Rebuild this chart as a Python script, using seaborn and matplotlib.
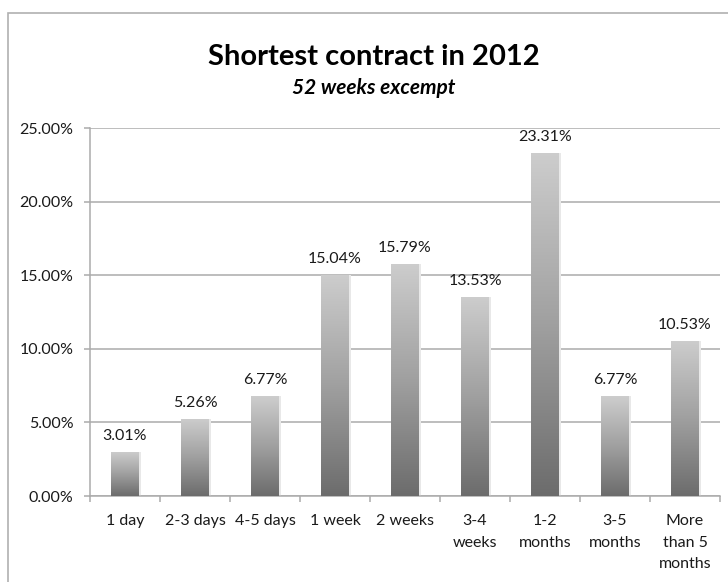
import matplotlib
matplotlib.use("Agg")
import matplotlib.pyplot as plt
import matplotlib.patches as mpatches
from matplotlib.colors import LinearSegmentedColormap
import numpy as np
import pandas as pd
import seaborn as sns

# Share of respondents by shortest contract length (percent)
categories = ["1 day", "2-3 days", "4-5 days", "1 week", "2 weeks",
              "3-4\nweeks", "1-2\nmonths", "3-5\nmonths", "More\nthan 5\nmonths"]
shares = [3.01, 5.26, 6.77, 15.04, 15.79, 13.53, 23.31, 6.77, 10.53]
y_ticks = [0, 5, 10, 15, 20, 25]

title = "Shortest contract in 2012"
subtitle = "52 weeks excempt"

sns.set_theme(style="white")
plt.rcParams["font.family"] = ["Lato", "DejaVu Sans"]

W, H = 728, 582
fig = plt.figure(figsize=(W / 100, H / 100), dpi=100)
fig.patch.set_facecolor("white")

# Chart frame (runs off the right and bottom edges)
frame = mpatches.Rectangle((8 / W, -0.05), 1.2, 1 - 13 / H + 0.05,
                           transform=fig.transFigure, fill=False,
                           edgecolor="#b0b0b0", linewidth=1.2, zorder=0)
fig.patches.append(frame)

ax = fig.add_axes([90 / W, 1 - 496 / H, 630 / W, 368 / H])

df = pd.DataFrame({"category": categories, "share": shares})
sns.barplot(data=df, x="category", y="share", width=0.4, color="#999999",
            ax=ax, zorder=3)

ax.set_xlim(-0.5, len(categories) - 0.5)
ax.set_ylim(0, 25)

# Vertical gray gradient in every bar: light at the top, dark at the base
cmap = LinearSegmentedColormap.from_list("bar", ["#6c6c6c", "#a0a0a0", "#cdcdcd"])
grad = np.linspace(0, 1, 256).reshape(-1, 1)
for patch in ax.patches:
    x0, y0 = patch.get_x(), patch.get_y()
    w, h = patch.get_width(), patch.get_height()
    patch.set_facecolor("none")
    patch.set_edgecolor("none")
    # soft shadow on the right side
    shadow = mpatches.Rectangle((x0 + w, y0), 0.03, h, facecolor="#e8e8e8",
                                edgecolor="none", zorder=2)
    ax.add_patch(shadow)
    im = ax.imshow(grad, extent=(x0, x0 + w, y0, y0 + h), origin="lower",
                   cmap=cmap, aspect="auto", zorder=3, interpolation="bilinear")
    im.set_clip_path(patch)

ax.set_xlim(-0.5, len(categories) - 0.5)
ax.set_ylim(0, 25)

# Value labels
for i, v in enumerate(shares):
    ax.annotate(f"{v:.2f}%", (i, v), xytext=(0, 6.5), textcoords="offset points",
                ha="center", va="bottom", fontsize=11.5, color="#1a1a1a")

# Axes styling
grid_col = "#ababab"
ax.set_yticks(y_ticks)
ax.set_yticklabels([f"{t:.2f}%" for t in y_ticks])
ax.yaxis.grid(True, color=grid_col, linewidth=1.1, zorder=0)
ax.set_axisbelow(True)
for side in ["top", "right"]:
    ax.spines[side].set_visible(False)
for side in ["left", "bottom"]:
    ax.spines[side].set_color(grid_col)
    ax.spines[side].set_linewidth(1.1)

ax.set_xticks(range(len(categories)))
ax.set_xticklabels(categories, linespacing=1.7)
ax.set_xticks(np.arange(-0.5, len(categories)), minor=True)
ax.tick_params(axis="x", which="major", length=0, pad=13, labelsize=11.5,
               labelcolor="#1a1a1a")
ax.tick_params(axis="x", which="minor", length=4, width=1.1, color=grid_col,
               direction="out", bottom=True)
ax.tick_params(axis="y", length=4, width=1.1, color=grid_col, direction="out",
               left=True, pad=8, labelsize=11.5, labelcolor="#1a1a1a")
for lab in ax.get_xticklabels():
    lab.set_verticalalignment("top")
ax.set_xlabel("")
ax.set_ylabel("")

# Titles
fig.text(374 / W, 1 - 57 / H, title, ha="center", va="center",
         fontsize=21, fontweight="bold", color="black")
fig.text(374 / W, 1 - 88 / H, subtitle, ha="center", va="center",
         fontsize=15, fontweight="bold", fontstyle="italic", color="black")

fig.savefig("out.png", dpi=100)
